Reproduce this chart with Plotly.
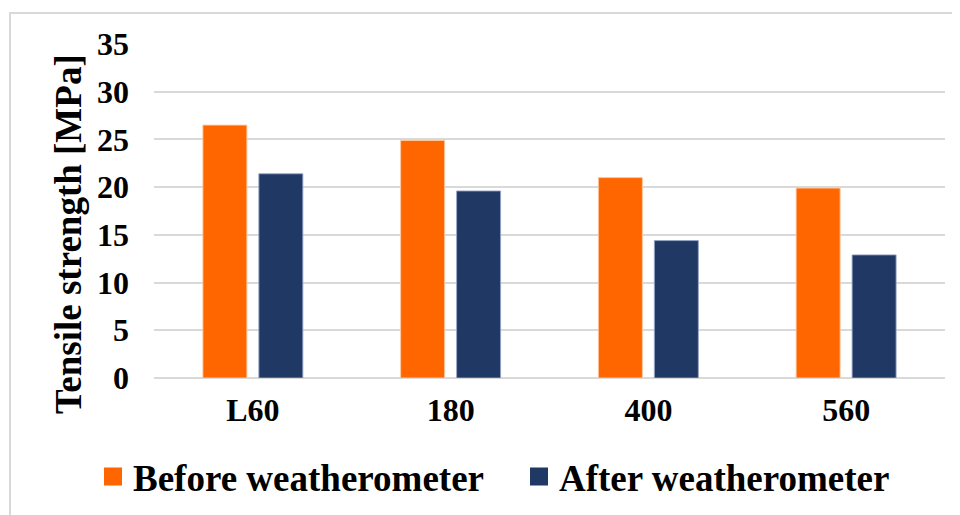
import plotly.graph_objects as go

categories = ["L60", "180", "400", "560"]
before_vals = [26.5, 24.9, 21.0, 19.9]
after_vals = [21.4, 19.6, 14.4, 12.9]
series_names = ["Before weatherometer", "After weatherometer"]
y_ticks = [0, 5, 10, 15, 20, 25, 30, 35]
y_title = "Tensile strength [MPa]"

ORANGE = "#FF6600"
NAVY = "#203864"
GRID = "#d9d9d9"
FONT = "Liberation Serif"

fig = go.Figure()
fig.add_trace(go.Bar(x=categories, y=before_vals, name=series_names[0], legendgroup="b",
                     showlegend=False,
                     marker=dict(color=ORANGE, line=dict(color="rgba(255,200,160,0.9)", width=1))))
fig.add_trace(go.Bar(x=categories, y=after_vals, name=series_names[1], legendgroup="a",
                     showlegend=False,
                     marker=dict(color=NAVY, line=dict(color="rgba(150,165,200,0.9)", width=1))))
# legend entries with larger square swatches
for name, col, grp in [(series_names[0], ORANGE, "b"), (series_names[1], NAVY, "a")]:
    fig.add_trace(go.Scatter(x=[None], y=[None], mode="markers", name=name, legendgroup=grp,
                             marker=dict(symbol="square", size=16, color=col,
                                         line=dict(color=col, width=2))))

# figure is offset by the 8px body margin of the page
W, H = 952, 507
L, R, T, B = 146, 15, 36, 137
pw, ph = W - L - R, H - T - B

def px(xf):
    return (xf - L) / pw

def py(yf):
    return (H - B - yf) / ph

fig.update_layout(
    width=W, height=H,
    margin=dict(l=L, r=R, t=T, b=B, autoexpand=False),
    paper_bgcolor="white", plot_bgcolor="white",
    barmode="group", bargap=0.434, bargroupgap=0.214,
    font=dict(family=FONT, color="black", weight="bold"),
    showlegend=True,
    legend=dict(orientation="h", x=px(85), xanchor="left",
                y=py(469), yanchor="middle",
                font=dict(size=37, family=FONT, weight="bold"),
                entrywidth=381, entrywidthmode="pixels",
                bgcolor="rgba(0,0,0,0)"),
    shapes=[dict(type="rect", xref="paper", yref="paper",
                 x0=px(2), x1=1.1, y0=-0.6, y1=py(5),
                 line=dict(color=GRID, width=2), fillcolor="rgba(0,0,0,0)", layer="below")],
    annotations=[dict(text=y_title, textangle=-90, xref="paper", yref="paper",
                      x=px(61), y=py(226), xanchor="center", yanchor="middle",
                      showarrow=False, font=dict(size=37, family=FONT, weight="bold"))],
)

fig.update_xaxes(showgrid=False, showline=False, zeroline=False, automargin=False,
                 tickfont=dict(size=32, family=FONT, weight="bold"),
                 ticks="", ticklabelstandoff=10)
fig.update_yaxes(range=[0, 35], tickvals=y_ticks, showgrid=True, gridcolor=GRID, gridwidth=1.5,
                 zeroline=True, zerolinecolor=GRID, zerolinewidth=1.5, automargin=False,
                 showline=False, ticks="", ticklabelstandoff=24,
                 tickfont=dict(size=32, family=FONT, weight="bold"))

fig.write_html("out.html")
